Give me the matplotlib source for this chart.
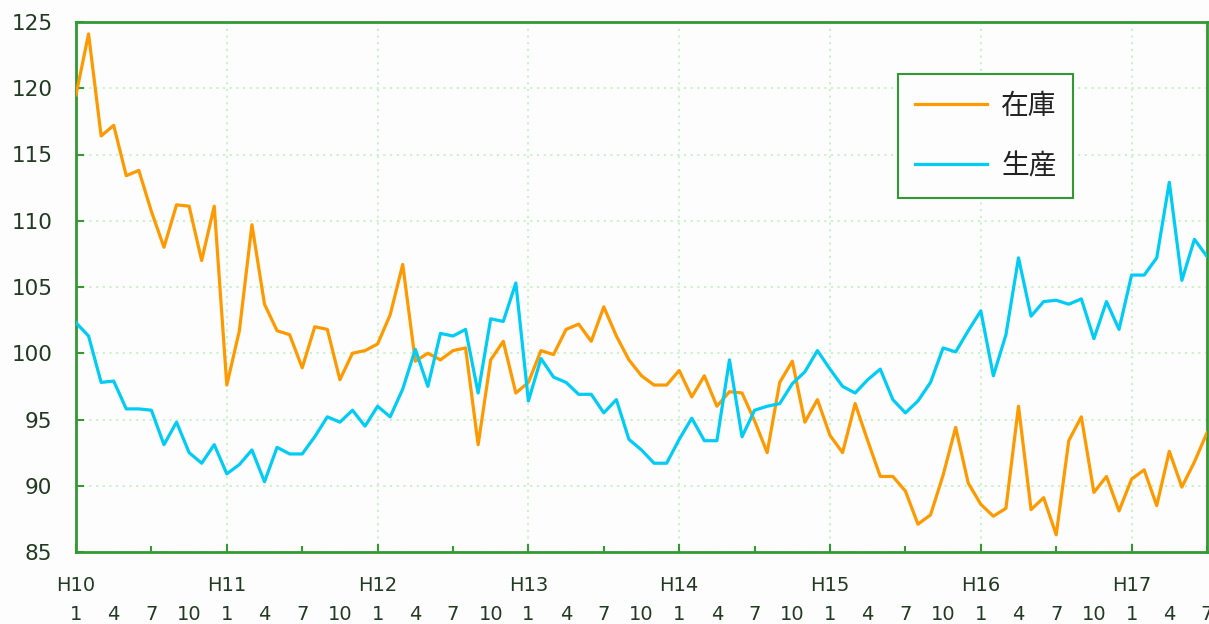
import numpy as np
from matplotlib import pyplot

pyplot.rcParams['font.family'] = ['Noto Sans CJK JP', 'DejaVu Sans']

# monthly index, H10/1 .. H17/7
months = np.arange(91)

# 在庫 (inventory index)
zaiko = [119.5, 124.1, 116.4, 117.2, 113.4, 113.8, 110.7, 108.0, 111.2, 111.1, 107.0, 111.1,
         97.6, 101.7, 109.7, 103.7, 101.7, 101.4, 98.9, 102.0, 101.8, 98.0, 100.0, 100.2,
         100.7, 102.9, 106.7, 99.4, 100.0, 99.5, 100.2, 100.4, 93.1, 99.5, 100.9, 97.0,
         97.8, 100.2, 99.9, 101.8, 102.2, 100.9, 103.5, 101.3, 99.5, 98.3, 97.6, 97.6,
         98.7, 96.7, 98.3, 96.0, 97.1, 97.0, 94.9, 92.5, 97.8, 99.4, 94.8, 96.5,
         93.8, 92.5, 96.2, 93.4, 90.7, 90.7, 89.6, 87.1, 87.8, 90.8, 94.4, 90.2,
         88.6, 87.7, 88.3, 96.0, 88.2, 89.1, 86.3, 93.4, 95.2, 89.5, 90.7, 88.1,
         90.5, 91.2, 88.5, 92.6, 89.9, 91.8, 94.0]

# 生産 (production index)
seisan = [102.3, 101.3, 97.8, 97.9, 95.8, 95.8, 95.7, 93.1, 94.8, 92.5, 91.7, 93.1,
          90.9, 91.6, 92.7, 90.3, 92.9, 92.4, 92.4, 93.7, 95.2, 94.8, 95.7, 94.5,
          96.0, 95.2, 97.3, 100.3, 97.5, 101.5, 101.3, 101.8, 97.0, 102.6, 102.4, 105.3,
          96.4, 99.6, 98.2, 97.8, 96.9, 96.9, 95.5, 96.5, 93.5, 92.7, 91.7, 91.7,
          93.5, 95.1, 93.4, 93.4, 99.5, 93.7, 95.7, 96.0, 96.2, 97.7, 98.6, 100.2,
          98.8, 97.5, 97.0, 98.0, 98.8, 96.5, 95.5, 96.4, 97.8, 100.4, 100.1, 101.7,
          103.2, 98.3, 101.4, 107.2, 102.8, 103.9, 104.0, 103.7, 104.1, 101.1, 103.9, 101.8,
          105.9, 105.9, 107.2, 112.9, 105.5, 108.6, 107.3]

year_labels = ['H10', 'H11', 'H12', 'H13', 'H14', 'H15', 'H16', 'H17']
month_labels = ['1', '4', '7', '10']

green = '#339933'
text_col = '#223a22'
grid_col = '#c6f2c6'
bg = '#fcfdfc'

fig = pyplot.figure(figsize=(12.09, 6.24), dpi=100, facecolor=bg)
ax = fig.add_axes([76 / 1209, 1 - 552 / 624, 1131 / 1209, 530 / 624])
ax.set_facecolor(bg)

ax.plot(months, zaiko, color='#ff9900', lw=2.3, label='在庫', zorder=3)
ax.plot(months, seisan, color='#00ccf5', lw=2.3, label='生産', zorder=3)

ax.set_xlim(0, 90)
ax.set_ylim(85, 125)

# ticks: years major, half years minor, all inward
ax.set_xticks(np.arange(0, 91, 12))
ax.set_xticks(np.arange(6, 91, 12), minor=True)
ax.set_xticklabels([])
ax.tick_params(axis='x', which='major', direction='in', length=6, width=1.5, color=green)
ax.tick_params(axis='x', which='minor', direction='in', length=4, width=1.5, color=green)

ax.set_yticks(np.arange(85, 126, 5))
ax.tick_params(axis='y', direction='in', length=6, width=1.5, color=green,
               labelsize=15.5, labelcolor=text_col, pad=17)
for lab in ax.get_yticklabels():
    lab.set_family('DejaVu Sans')

for s in ax.spines.values():
    s.set_color(green)
    s.set_linewidth(2)

ax.grid(True, color=grid_col, linestyle=(0, (1.2, 2.5)), linewidth=1.3)
ax.set_axisbelow(True)

# two-row x labels: era year and month
trans = ax.get_xaxis_transform()
for k, yl in enumerate(year_labels):
    ax.text(k * 12, -0.045, yl, transform=trans, ha='center', va='top',
            fontsize=14, color=text_col, family='DejaVu Sans')
for m in range(0, 91, 3):
    ax.text(m, -0.1, month_labels[(m // 3) % 4], transform=trans, ha='center', va='top',
            fontsize=14, color=text_col, family='DejaVu Sans')

leg = ax.legend(loc='upper left', bbox_to_anchor=(0.727, 0.902), fontsize=20,
                handlelength=2.6, labelspacing=1.1, borderpad=0.6, handletextpad=0.5,
                borderaxespad=0, fancybox=False, framealpha=1, facecolor=bg, edgecolor=green)
leg.get_frame().set_linewidth(1.5)
for t in leg.get_texts():
    t.set_color('#222222')

pyplot.savefig('out.png', dpi=100, facecolor=bg)
